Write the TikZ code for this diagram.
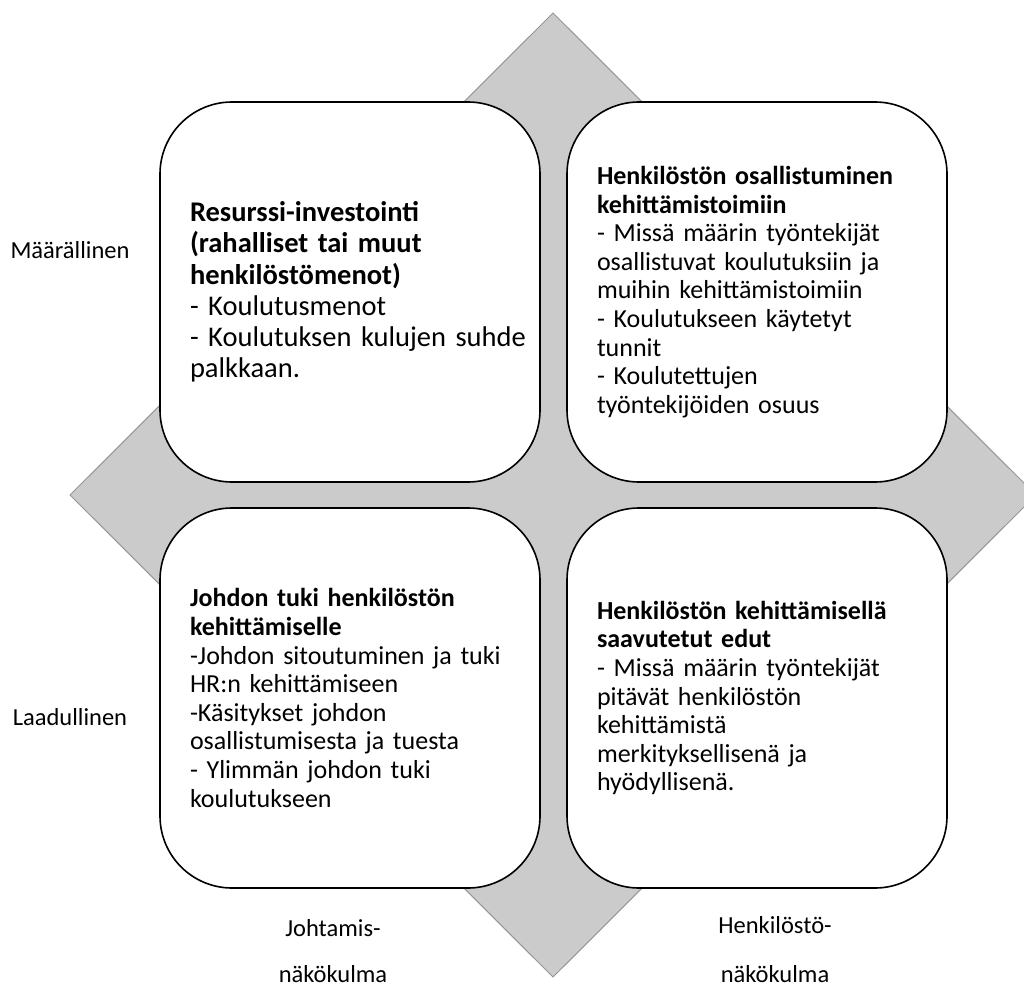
\documentclass[tikz,border=0pt]{standalone}
\usepackage{fontspec}
\setmainfont{Carlito}[WordSpace=0.85]
\usetikzlibrary{positioning}
\pgfdeclarelayer{edgelayer}
\pgfdeclarelayer{nodelayer}
\pgfsetlayers{edgelayer,nodelayer,main}
\definecolor{diamondfill}{RGB}{203,203,203}
\definecolor{diamondline}{RGB}{150,150,150}
\tikzstyle{quadrant}=[draw=black,line width=1.6pt,fill=white,rounded corners=72pt,minimum width=380pt,minimum height=380pt,text width=320pt,inner xsep=30pt,align=left]
\tikzstyle{bigtext}=[font=\fontsize{28.5}{31.3}\selectfont]
\tikzstyle{smalltext}=[font=\fontsize{26}{28.6}\selectfont]
\tikzstyle{axislabel}=[align=center,font=\fontsize{24.5}{28}\selectfont]

\begin{document}
\begin{tikzpicture}[x=1pt,y=-1pt]
	\useasboundingbox (0,0) rectangle (1024,992);
	\clip (0,0) rectangle (1024,992);
	\begin{pgfonlayer}{edgelayer}
		\coordinate (top) at (553,13);
		\coordinate (right) at (1036,495);
		\coordinate (bottom) at (553,977);
		\coordinate (left) at (70,495);
		\draw [fill=diamondfill, draw=diamondline, line width=1pt] (top) -- (right) -- (bottom) -- (left) -- cycle;
	\end{pgfonlayer}
	\begin{pgfonlayer}{nodelayer}
		\node [style=quadrant, style=bigtext] (resurssi) at (350,292) {\textbf{Resurssi-investointi}\\\textbf{(rahalliset tai muut}\\\textbf{henkilöstömenot)}\\- Koulutusmenot\\\mbox{- Koulutuksen kulujen suhde}\\palkkaan.};
		\node [style=quadrant, style=smalltext, inner xsep=28pt] (osallistuminen) at (757,292) {\textbf{Henkilöstön osallistuminen}\\\textbf{kehittämistoimiin}\\- Missä määrin työntekijät\\osallistuvat koulutuksiin ja\\muihin kehittämistoimiin\\- Koulutukseen käytetyt\\tunnit\\- Koulutettujen\\työntekijöiden osuus};
		\node [style=quadrant, style=smalltext] (johdontuki) at (350,698) {\textbf{Johdon tuki henkilöstön}\\\textbf{kehittämiselle}\\-Johdon sitoutuminen ja tuki\\HR:n kehittämiseen\\-Käsitykset johdon\\osallistumisesta ja tuesta\\- Ylimmän johdon tuki\\koulutukseen};
		\node [style=quadrant, style=smalltext, inner xsep=28pt] (edut) at (757,698) {\textbf{Henkilöstön kehittämisellä}\\\textbf{saavutetut edut}\\- Missä määrin työntekijät\\pitävät henkilöstön\\kehittämistä\\merkityksellisenä ja\\hyödyllisenä.};
		\node [style=axislabel] (maarallinen) at (70,250) {Määrällinen};
		\node [style=axislabel] (laadullinen) at (70,717) {Laadullinen};
		\node [style=axislabel] (johtamis) at (333,928) {Johtamis-};
		\node [style=axislabel, below=22pt of johtamis] (johtamis2) {näkökulma};
		\node [style=axislabel] (henkilosto) at (775,925) {Henkilöstö-};
		\node [style=axislabel, below=25pt of henkilosto] (henkilosto2) {näkökulma};
	\end{pgfonlayer}
\end{tikzpicture}
\end{document}
